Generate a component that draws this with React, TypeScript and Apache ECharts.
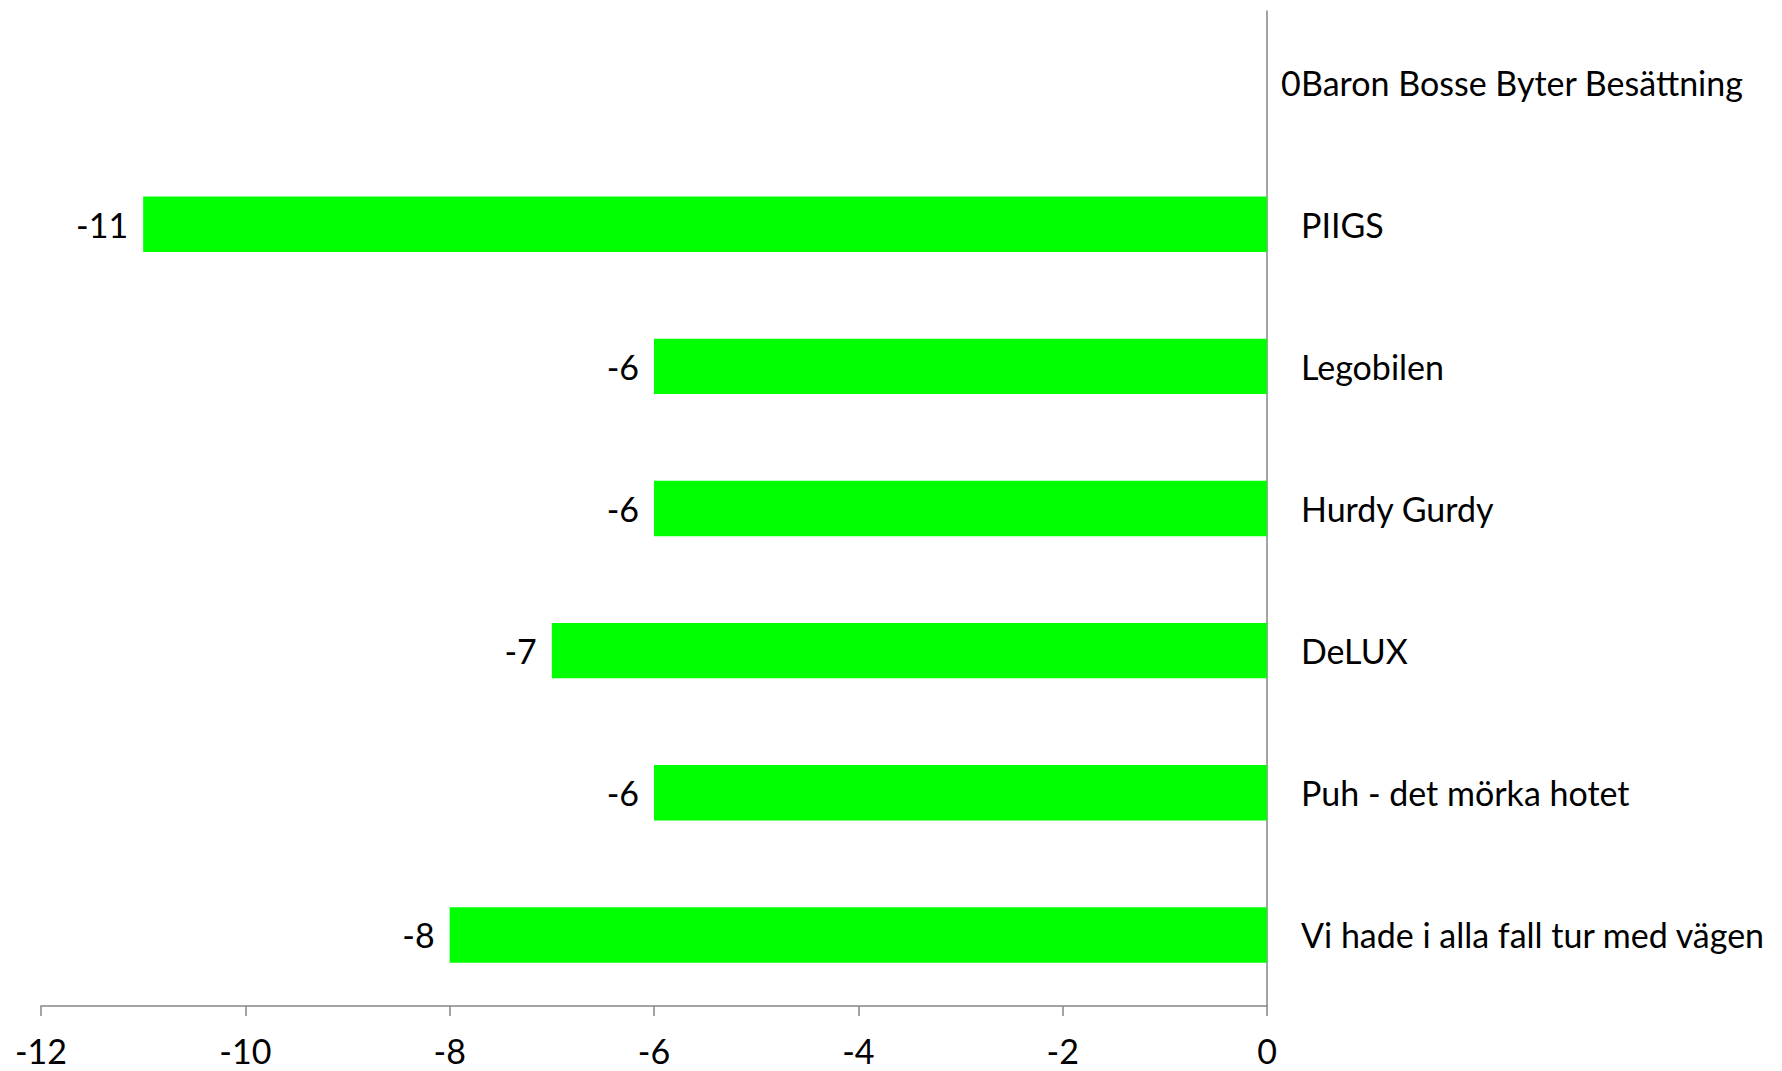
import React, { useEffect, useRef } from "react";
import * as echarts from "echarts";

const categories: string[] = [
  "Baron Bosse Byter Besättning",
  "PIIGS",
  "Legobilen",
  "Hurdy Gurdy",
  "DeLUX",
  "Puh - det mörka hotet",
  "Vi hade i alla fall tur med vägen",
];
const values: number[] = [0, -11, -6, -6, -7, -6, -8];
const xMin = -12;
const xMax = 0;
const xStep = 2;

const FONT = "Lato, 'Noto Sans', sans-serif";
const AXIS_COLOR = "#868686";
const BAR_COLOR = "#00FF00";

export default function App() {
  const ref = useRef<HTMLDivElement>(null);
  useEffect(() => {
    if (!ref.current) return;
    const chart = echarts.init(ref.current, null, { renderer: "svg" });
    chart.setOption({
      animation: false,
      backgroundColor: "#ffffff",
      grid: { left: 41, right: 515, top: 11, bottom: 65, containLabel: false },
      xAxis: {
        type: "value",
        min: xMin,
        max: xMax,
        interval: xStep,
        splitLine: { show: false },
        axisLine: { show: true, lineStyle: { color: AXIS_COLOR, width: 1.5 } },
        axisTick: { show: true, length: 10, lineStyle: { color: AXIS_COLOR, width: 1.5 } },
        axisLabel: {
          color: "#000000",
          fontFamily: FONT,
          fontSize: 34,
          lineHeight: 34,
          margin: 27,
        },
      },
      yAxis: {
        type: "category",
        data: categories,
        inverse: true,
        position: "right",
        axisLine: { show: true, onZero: false, lineStyle: { color: AXIS_COLOR, width: 1.5 } },
        axisTick: { show: false },
        splitLine: { show: false },
        axisLabel: {
          color: "#000000",
          fontFamily: FONT,
          fontSize: 34,
          margin: 34,
          align: "left",
          padding: [0, 0, 4, 0],
        },
      },
      series: [
        {
          type: "bar",
          data: values.map((v) =>
            v === 0
              ? { value: v, label: { position: "right", distance: 14 } }
              : { value: v }
          ),
          barCategoryGap: "61%",
          itemStyle: { color: BAR_COLOR },
          label: {
            show: true,
            position: "left",
            distance: 15,
            color: "#000000",
            fontFamily: FONT,
            fontSize: 34,
          },
        },
      ],
    });
    return () => chart.dispose();
  }, []);
  return (
    <div
      ref={ref}
      style={{ position: "absolute", left: 0, top: 0, width: 1782, height: 1071 }}
    />
  );
}
